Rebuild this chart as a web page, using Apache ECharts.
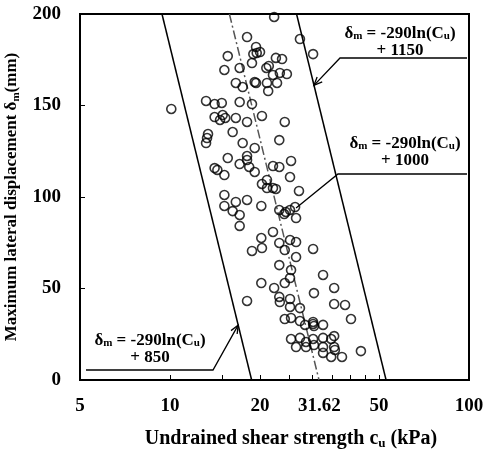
<!DOCTYPE html>
<html>
<head>
<meta charset="utf-8">
<script src="https://cdn.jsdelivr.net/npm/echarts@6/dist/echarts.min.js"></script>
<style>
html, body { margin: 0; padding: 0; background: #fff; }
#main { width: 483px; height: 450px; }
</style>
</head>
<body>
<div id="main"></div>
<script>
// undrained shear strength cu (kPa) and max lateral displacement (mm)
var cuValues = [
  18.1, 19.4, 19.0, 19.5, 20.0, 15.6, 17.1, 18.8, 15.2, 21.0,
  21.4, 16.6, 17.5, 19.2, 19.4, 21.1, 21.3, 10.1, 13.2, 14.1,
  14.9, 17.1, 18.8, 14.1, 14.7, 15.0, 15.3, 16.6, 18.1, 20.3,
  16.2, 13.4, 22.3, 27.2, 30.1, 22.6, 23.7, 22.1, 23.3, 24.6,
  22.8, 24.2, 13.3, 13.2, 17.5, 19.2, 15.6, 18.1, 18.1, 17.1,
  18.4, 14.1, 14.4, 15.2, 19.2, 20.3, 21.1, 15.2, 15.2, 16.6,
  18.1, 16.2, 17.1, 17.1, 20.2, 20.2, 18.8, 20.3, 23.2, 22.1,
  23.2, 25.4, 25.2, 21.1, 22.1, 22.6, 27.0, 23.2, 24.1, 24.4,
  25.2, 26.2, 26.4, 22.1, 23.2, 24.2, 25.2, 26.4, 30.1, 20.2,
  18.1, 26.4, 23.2, 25.4, 25.2, 24.2, 32.5, 22.3, 23.2, 23.3,
  25.2, 30.3, 35.4, 25.2, 27.2, 35.4, 38.5, 24.2, 25.4, 27.2,
  28.3, 30.1, 30.3, 30.1, 32.5, 40.3, 25.4, 27.2, 26.4, 28.5,
  28.5, 30.1, 30.3, 32.5, 32.5, 34.6, 35.4, 35.4, 35.6, 32.5,
  34.6, 37.6, 43.5
];
var dmValues = [
  187.4, 182.0, 178.1, 178.7, 179.2, 177.0, 170.5, 173.2, 169.4, 170.5,
  171.6, 162.3, 160.1, 162.8, 162.3, 162.3, 157.9, 148.1, 152.5, 150.8,
  151.4, 151.9, 150.8, 143.7, 142.1, 144.8, 143.2, 143.2, 141.0, 144.3,
  135.5, 134.4, 198.4, 186.3, 178.1, 176.0, 175.4, 166.7, 167.8, 167.2,
  162.3, 141.0, 132.2, 129.5, 129.5, 126.8, 121.3, 122.4, 120.2, 118.0,
  116.4, 115.8, 114.8, 112.0, 113.7, 107.1, 104.9, 101.1, 95.1, 97.3,
  98.4, 92.3, 90.2, 84.2, 95.1, 77.6, 70.5, 72.1, 131.1, 116.9,
  116.4, 119.7, 110.9, 109.3, 104.9, 104.4, 103.3, 92.9, 90.7, 91.8,
  92.9, 94.5, 88.5, 80.9, 74.9, 71.0, 76.5, 75.4, 71.6, 53.0,
  43.2, 67.2, 62.8, 60.1, 55.7, 53.0, 57.4, 50.3, 45.4, 42.6,
  44.3, 47.5, 50.3, 39.9, 39.3, 41.5, 41.0, 33.3, 33.9, 32.2,
  30.1, 31.7, 29.5, 30.6, 30.1, 33.3, 22.4, 23.0, 18.0, 20.8,
  18.0, 22.4, 19.1, 23.0, 18.0, 22.4, 24.0, 18.0, 16.4, 14.8,
  12.6, 12.6, 15.8
];

// the three bounding lines, end points [cu, dm]
var line850 = [[9.4, 200], [18.75, 0]];
var line1000 = [[15.8, 200], [31.5, 0]];
var line1150 = [[26.5, 200], [52.8, 0]];

var xTickLabels = [5, 10, 20, 31.62, 50, 100];
var xMinorTicks = [10, 15, 20, 25, 30, 35, 40, 45, 50];

var serif = '"Liberation Serif", "Times New Roman", serif';

var points = [];
for (var i = 0; i < cuValues.length; i++) {
  points.push([cuValues[i], dmValues[i]]);
}

var subStyle = function (size, lh) {
  return { fontSize: size, fontWeight: 'bold', fontFamily: serif, color: '#000', verticalAlign: 'bottom', lineHeight: lh };
};

var myChart = echarts.init(document.getElementById('main'), null, { renderer: 'canvas' });

var option = {
  backgroundColor: '#fff',
  animation: false,
  grid: {
    left: 80, right: 14, top: 14, bottom: 70,
    outerBoundsMode: 'none',
    containLabel: false,
    show: true, borderColor: '#000', borderWidth: 2
  },
  xAxis: {
    type: 'log',
    logBase: 10,
    min: 5,
    max: 100,
    name: 'Undrained shear strength c{sub|u} (kPa)',
    nameLocation: 'middle',
    nameGap: 48,
    nameTextStyle: {
      fontSize: 20, fontWeight: 'bold', fontFamily: serif, color: '#000',
      lineHeight: 22, padding: [0, 0, 0, 33],
      rich: { sub: subStyle(13, 10) }
    },
    axisLine: { show: true, lineStyle: { color: '#000', width: 2 } },
    axisTick: { show: true, inside: true, length: 5, customValues: xMinorTicks, lineStyle: { color: '#000', width: 1 } },
    minorTick: { show: false },
    axisLabel: {
      customValues: xTickLabels,
      margin: 17,
      fontSize: 19, fontWeight: 'bold', fontFamily: serif, color: '#000',
      formatter: function (v) { return String(+(+v).toFixed(2)); }
    },
    splitLine: { show: false }
  },
  yAxis: {
    type: 'value',
    min: 0,
    max: 200,
    interval: 50,
    name: 'Maximum lateral displacement δ{sub|m}(mm)',
    nameLocation: 'middle',
    nameGap: 50,
    nameTextStyle: {
      fontSize: 17, fontWeight: 'bold', fontFamily: serif, color: '#000',
      lineHeight: 19,
      rich: { sub: subStyle(11, 8) }
    },
    axisLine: { show: true, lineStyle: { color: '#000', width: 2 } },
    axisTick: { show: true, inside: true, length: 5, lineStyle: { color: '#000', width: 1 } },
    axisLabel: { margin: 19, fontSize: 19, fontWeight: 'bold', fontFamily: serif, color: '#000' },
    splitLine: { show: false }
  },
  series: [
    {
      name: 'position',
      type: 'scatter',
      symbol: 'circle',
      symbolSize: 9,
      data: points,
      itemStyle: { color: 'rgba(0,0,0,0)', borderColor: '#000', borderWidth: 1.6 },
      z: 3
    },
    {
      type: 'line', data: line850, symbol: 'none', silent: true,
      lineStyle: { color: '#000', width: 1.5 }
    },
    {
      type: 'line', data: line1000, symbol: 'none', silent: true,
      lineStyle: { color: '#555', width: 1.5, type: [9, 3, 2, 3] }
    },
    {
      type: 'line', data: line1150, symbol: 'none', silent: true,
      lineStyle: { color: '#000', width: 1.5 }
    }
  ]
};

myChart.setOption(option);

// callouts: leader lines are layout, arrow tips sit on the lines via the axes
function arrow(tip, from) {
  var a = Math.atan2(from[1] - tip[1], from[0] - tip[0]);
  var len = 9, ang = 0.4;
  return [
    [tip[0] + len * Math.cos(a + ang), tip[1] + len * Math.sin(a + ang)],
    tip,
    [tip[0] + len * Math.cos(a - ang), tip[1] + len * Math.sin(a - ang)]
  ];
}

var tipUpper = myChart.convertToPixel({ gridIndex: 0 }, [30.3, 161]);
var endMiddle = myChart.convertToPixel({ gridIndex: 0 }, [26.4, 94]);
var tipLower = myChart.convertToPixel({ gridIndex: 0 }, [16.9, 30]);

var calloutRich = {
  sub: subStyle(11, 9)
};
function callout(x, y, txt) {
  return {
    type: 'text', x: x, y: y, z: 10,
    style: {
      text: txt, align: 'center', verticalAlign: 'top',
      fontSize: 17, fontWeight: 'bold', fontFamily: serif, fill: '#000',
      lineHeight: 17, rich: calloutRich
    }
  };
}
var lineStyle = { stroke: '#000', lineWidth: 1.3, fill: null };

myChart.setOption({
  graphic: [
    callout(400, 25, 'δ{sub|m} = -290ln(C{sub|u})\n+ 1150'),
    callout(405, 135, 'δ{sub|m} = -290ln(C{sub|u})\n+ 1000'),
    callout(150, 332, 'δ{sub|m} = -290ln(C{sub|u})\n+ 850'),
    { type: 'polyline', z: 10, shape: { points: [[467, 58], [340, 58], tipUpper] }, style: lineStyle },
    { type: 'polyline', z: 10, shape: { points: arrow(tipUpper, [340, 58]) }, style: lineStyle },
    { type: 'polyline', z: 10, shape: { points: [[467, 174], [338, 174], endMiddle] }, style: lineStyle },
    { type: 'polyline', z: 10, shape: { points: [[86, 370], [213, 370], tipLower] }, style: lineStyle },
    { type: 'polyline', z: 10, shape: { points: arrow(tipLower, [213, 370]) }, style: lineStyle }
  ]
});
</script>
</body>
</html>
